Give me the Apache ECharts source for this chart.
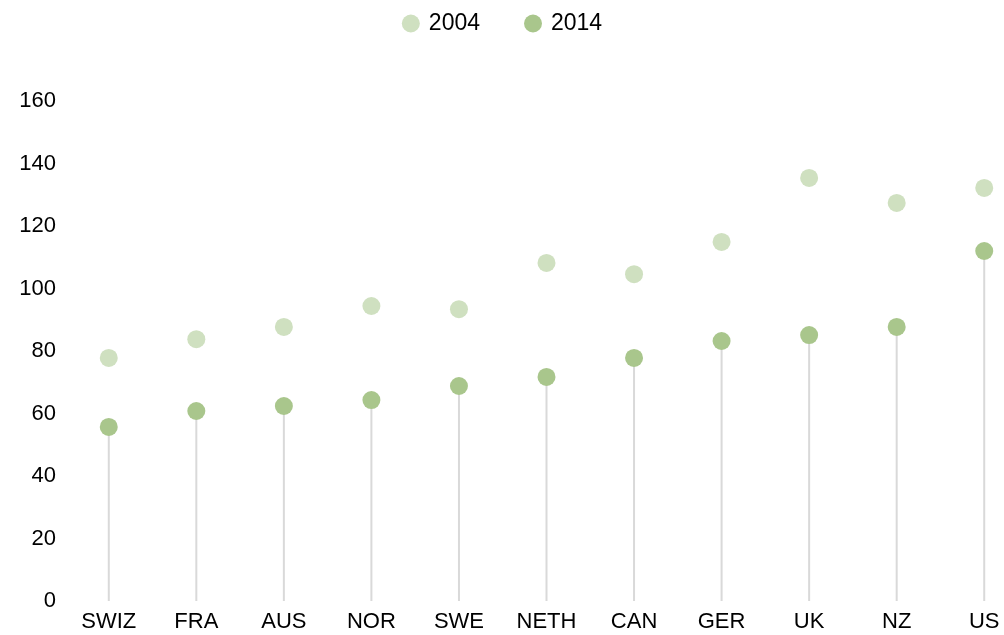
<!DOCTYPE html>
<html>
<head>
<meta charset="utf-8">
<script src="https://cdn.jsdelivr.net/npm/echarts@6/dist/echarts.min.js"></script>
<style>
  html, body { margin: 0; padding: 0; background: #fff; }
  #main { width: 1004px; height: 635px; }
</style>
</head>
<body>
<div id="main"></div>
<script>
// countries along the x axis
const countries = ['SWIZ', 'FRA', 'AUS', 'NOR', 'SWE', 'NETH', 'CAN', 'GER', 'UK', 'NZ', 'US'];
// values
const values2004 = [77.8, 83.8, 87.7, 94.4, 93.4, 108.2, 104.6, 114.9, 135.4, 127.4, 132.2];
const values2014 = [55.7, 60.8, 62.4, 64.3, 68.8, 71.7, 77.8, 83.2, 85.1, 87.7, 112];

const font = 'Liberation Sans';
const chart = echarts.init(document.getElementById('main'));

chart.setOption({
    animation: false,
    backgroundColor: '#fff',
    textStyle: { fontFamily: font },
    legend: {
        data: ['2004', '2014'],
        top: 7,
        left: 'center',
        icon: 'circle',
        itemWidth: 18,
        itemHeight: 18,
        itemGap: 44,
        textStyle: { fontSize: 23, color: '#000', fontFamily: font, padding: [0, 0, 0, 4] }
    },
    grid: { left: 65, right: -24, top: 101, bottom: 34, outerBoundsMode: 'none' },
    xAxis: {
        type: 'category',
        data: countries,
        axisLine: { show: false },
        axisTick: { show: false },
        axisLabel: { fontSize: 22, color: '#000', margin: 10, fontFamily: font }
    },
    yAxis: {
        type: 'value',
        min: 0,
        max: 160,
        interval: 20,
        splitLine: { show: false },
        axisLine: { show: false },
        axisTick: { show: false },
        axisLabel: { fontSize: 22, color: '#000', margin: 9, fontFamily: font }
    },
    series: [
        {
            // drop lines under the 2014 points
            name: 'stem',
            type: 'bar',
            data: values2014,
            barWidth: 2,
            barGap: '-100%',
            itemStyle: { color: '#d9d9d9' },
            silent: true,
            z: 1
        },
        {
            name: '2004',
            type: 'scatter',
            data: values2004,
            symbolSize: 18,
            itemStyle: { color: '#cfe0c0', opacity: 1 },
            z: 3
        },
        {
            name: '2014',
            type: 'scatter',
            data: values2014,
            symbolSize: 18,
            itemStyle: { color: '#a9c68c', opacity: 1 },
            z: 3
        }
    ]
});
</script>
</body>
</html>
